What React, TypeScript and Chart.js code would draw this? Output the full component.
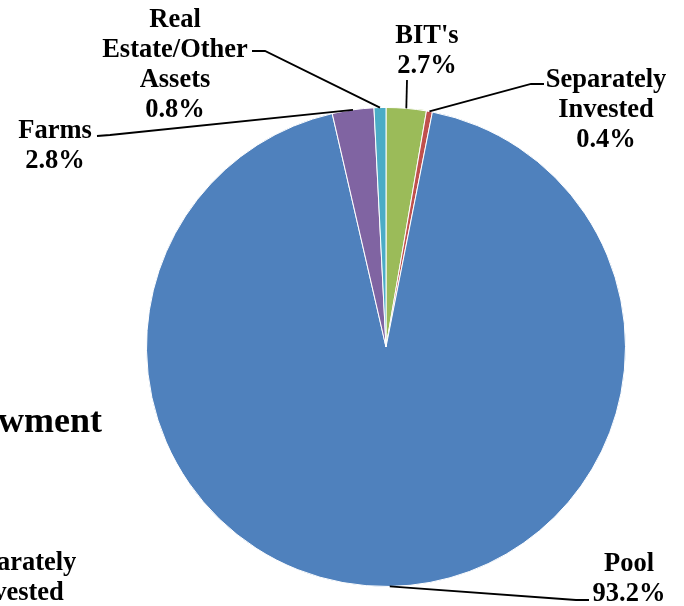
import React, { useEffect, useRef } from "react";
import { Chart, registerables } from "chart.js";

Chart.register(...registerables);

const categories = ["BIT's", "Separately Invested", "Pool", "Farms", "Real Estate/Other Assets"];
const values = [2.7, 0.4, 93.2, 2.8, 0.8];
const sliceColors = ["#9BBB59", "#C0504D", "#4F81BD", "#8064A2", "#4BACC6"];
const labelLines = [
  ["BIT's", "2.7%"],
  ["Separately", "Invested", "0.4%"],
  ["Pool", "93.2%"],
  ["Farms", "2.8%"],
  ["Real", "Estate/Other", "Assets", "0.8%"],
];
// label layout: centre x, first baseline y, leader elbow and leader end near text
const labelCenterX = [427, 606, 629, 55, 175];
const labelFirstBaseline = [43, 87, 571, 138, 27];
const leaderElbow = [[407, 80], [531, 84], [576, 600], [110, 135], [265, 51]];
const leaderTextEnd = [[407, 80], [544, 84], [589, 600], [97, 136], [252, 51]];

const clippedTexts = [
  { text: "Endowment", x: 102, y: 432, size: 36, align: "right" },
  { text: "Separately", x: 16, y: 570, size: 26.5, align: "center" },
  { text: "Invested", x: 16, y: 600, size: 26.5, align: "center" },
];

const FONT = "'Liberation Serif', 'Times New Roman', serif";

const labelPlugin = {
  id: "pieLabels",
  afterDraw(chart: any) {
    const ctx = chart.ctx;
    const meta = chart.getDatasetMeta(0);
    ctx.save();
    ctx.strokeStyle = "#000";
    ctx.lineWidth = 1.8;
    meta.data.forEach((arc: any, i: number) => {
      const p = arc.getProps(["x", "y", "startAngle", "endAngle", "outerRadius"], true);
      const mid = (p.startAngle + p.endAngle) / 2;
      const ax = p.x + Math.cos(mid) * p.outerRadius;
      const ay = p.y + Math.sin(mid) * p.outerRadius;
      ctx.beginPath();
      ctx.moveTo(ax, ay);
      ctx.lineTo(leaderElbow[i][0], leaderElbow[i][1]);
      ctx.lineTo(leaderTextEnd[i][0], leaderTextEnd[i][1]);
      ctx.stroke();
    });
    ctx.fillStyle = "#000";
    ctx.textBaseline = "alphabetic";
    ctx.font = `bold 26.5px ${FONT}`;
    ctx.textAlign = "center";
    labelLines.forEach((lines, i) => {
      lines.forEach((t, j) => {
        ctx.fillText(t, labelCenterX[i], labelFirstBaseline[i] + j * 30);
      });
    });
    clippedTexts.forEach((c) => {
      ctx.font = `bold ${c.size}px ${FONT}`;
      ctx.textAlign = c.align as CanvasTextAlign;
      ctx.fillText(c.text, c.x, c.y);
    });
    ctx.restore();
  },
};

export default function App() {
  const ref = useRef<HTMLCanvasElement | null>(null);
  useEffect(() => {
    if (!ref.current) return;
    const chart = new Chart(ref.current, {
      type: "pie",
      data: {
        labels: categories,
        datasets: [
          {
            data: values,
            backgroundColor: sliceColors,
            borderColor: "#ffffff",
            borderWidth: 1,
          },
        ],
      },
      options: {
        responsive: false,
        animation: false,
        layout: { padding: { left: 146, right: 58, top: 106, bottom: 18 } },
        plugins: {
          legend: { display: false },
          tooltip: { enabled: false },
        },
      },
      plugins: [labelPlugin],
    });
    return () => chart.destroy();
  }, []);
  return (
    <div style={{ position: "fixed", left: 0, top: 0, width: 684, height: 606, background: "#fff" }}>
      <canvas ref={ref} width={684} height={606} style={{ width: 684, height: 606, display: "block" }} />
    </div>
  );
}
